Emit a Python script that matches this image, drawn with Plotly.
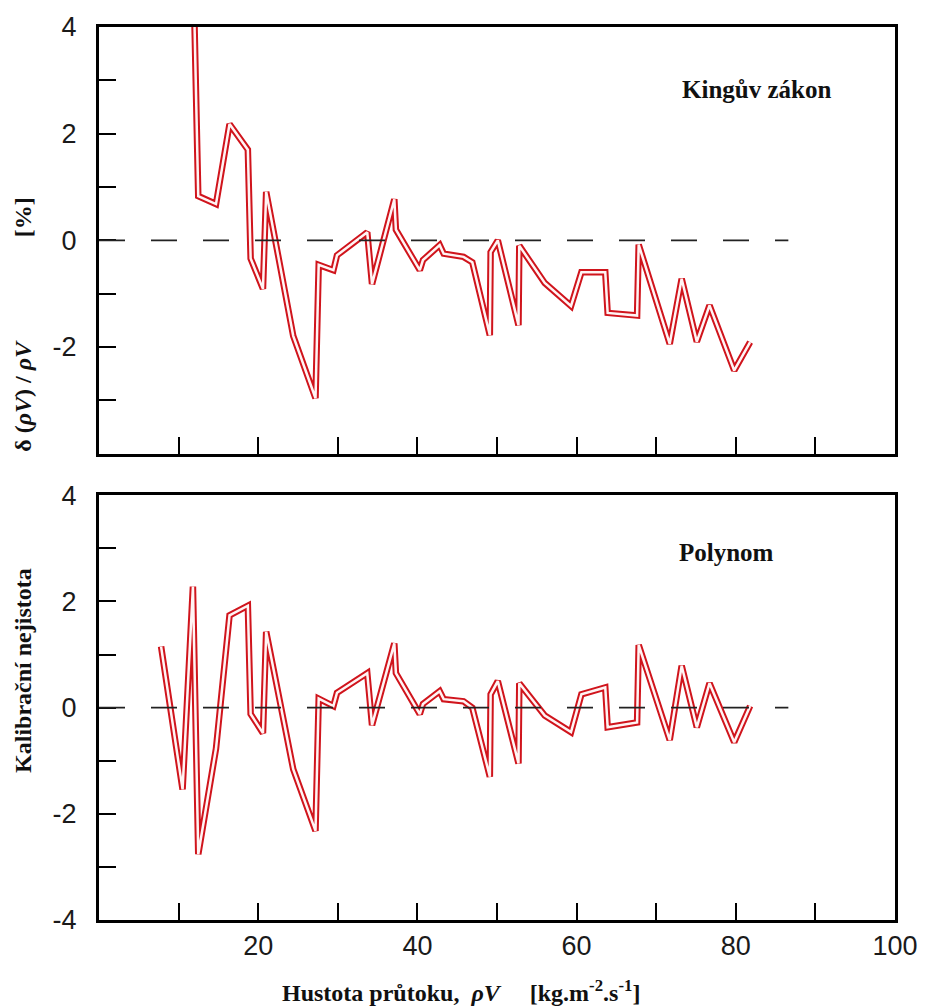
import plotly.graph_objects as go

# Mass flux density rho*V [kg m^-2 s^-1]
flux = [7.8, 10.5, 11.8, 12.47, 14.7, 16.4, 18.7, 19.05, 20.6, 21.0, 24.4, 27.2, 27.6,
        29.45, 29.9, 33.7, 34.3, 37.1, 37.3, 40.3, 40.7, 42.8, 43.3, 45.8, 46.9, 49.1,
        49.2, 50.1, 52.7, 52.8, 56.0, 59.3, 60.6, 63.6, 63.9, 67.6, 67.8, 71.7, 73.2,
        75.1, 76.7, 79.8, 81.8]

# Calibration uncertainty [%] - King's law (first points off the chart)
king = [12.0, 8.0, 5.4, 0.83, 0.68, 2.18, 1.70, -0.34, -0.91, 0.91, -1.79, -2.96, -0.46,
        -0.56, -0.28, 0.15, -0.82, 0.77, 0.20, -0.56, -0.37, -0.09, -0.25, -0.31, -0.41,
        -1.78, -0.22, 0.0, -1.59, -0.10, -0.80, -1.23, -0.60, -0.60, -1.36, -1.41, -0.08,
        -1.94, -0.72, -1.90, -1.22, -2.44, -1.91]

# Calibration uncertainty [%] - polynomial
poly = [1.15, -1.54, 2.28, -2.76, -0.77, 1.74, 1.92, -0.12, -0.48, 1.43, -1.16, -2.32, 0.17,
        0.03, 0.28, 0.65, -0.33, 1.21, 0.65, -0.12, 0.07, 0.31, 0.16, 0.12, 0.0, -1.30,
        0.25, 0.50, -1.05, 0.46, -0.15, -0.46, 0.25, 0.38, -0.37, -0.28, 1.18, -0.61,
        0.79, -0.37, 0.46, -0.65, 0.03]

x_tickvals = [10, 20, 30, 40, 50, 60, 70, 80, 90, 100]
x_ticktext_bottom = ["", "20", "", "40", "", "60", "", "80", "", "100"]
y_tickvals = [-4, -3, -2, -1, 0, 1, 2, 3, 4]
y_ticktext_top = ["", "", "-2", "", "0", "", "2", "", "4"]
y_ticktext_bottom = ["-4", "", "-2", "", "0", "", "2", "", "4"]

RED = "#d0141c"
INNER = "#fff4f4"

fig = go.Figure()
for yvals, xa, ya in [(king, "x", "y"), (poly, "x2", "y2")]:
    fig.add_trace(go.Scatter(x=flux, y=yvals, mode="lines", xaxis=xa, yaxis=ya,
                             line=dict(color=RED, width=6.5), showlegend=False,
                             hoverinfo="skip"))
    fig.add_trace(go.Scatter(x=flux, y=yvals, mode="lines", xaxis=xa, yaxis=ya,
                             line=dict(color=INNER, width=2.5), showlegend=False))

tickfont = dict(family="Liberation Sans, Arial, sans-serif", size=27, color="#1a1a1a")
common_x = dict(range=[0, 100], showline=True, linewidth=3, linecolor="black", mirror=True,
                ticks="inside", ticklen=17, tickwidth=2, tickcolor="black",
                tickmode="array", tickvals=x_tickvals, showgrid=False, zeroline=False,
                tickfont=tickfont)
common_y = dict(range=[-4, 4], showline=True, linewidth=3, linecolor="black", mirror=True,
                ticks="inside", ticklen=17, tickwidth=2, tickcolor="black",
                tickmode="array", tickvals=y_tickvals, showgrid=False, zeroline=False,
                tickfont=tickfont, ticklabelstandoff=14)

fig.update_layout(
    width=930, height=1008,
    margin=dict(l=99, r=25, t=20, b=88),
    paper_bgcolor="white", plot_bgcolor="white",
    xaxis=dict(**common_x, anchor="y", ticktext=[""] * len(x_tickvals)),
    yaxis=dict(**common_y, anchor="x", domain=[0.5222, 1.0], ticktext=y_ticktext_top),
    xaxis2=dict(**common_x, anchor="y2", ticktext=x_ticktext_bottom, ticklabelstandoff=0),
    yaxis2=dict(**common_y, anchor="x2", domain=[0.0, 0.4756], ticktext=y_ticktext_bottom),
)

for xr, yr in [("x", "y"), ("x2", "y2")]:
    fig.add_shape(type="line", xref=xr, yref=yr, x0=0, x1=86.6, y0=0, y1=0,
                  line=dict(color="#222", width=1.6, dash="26px,26px"))

serif = "Liberation Serif, Times New Roman, serif"
ann_font = dict(family=serif, size=25, color="#111")
lab_font = dict(family=serif, size=24, color="#111")
xt_font = dict(family=serif, size=24, color="#111")


def note(text, x, y, font, angle=0):
    fig.add_annotation(text=text, xref="paper", yref="paper", x=x, y=y,
                       xanchor="center", yanchor="middle", textangle=angle,
                       showarrow=False, font=font)


note("<b>Kingův zákon</b>", 0.826, 0.93, ann_font)
note("<b>Polynom</b>", 0.788, 0.412, ann_font)

note("<b>[%]</b>", -0.0955, 0.787, lab_font, -90)
note("<b>δ (<i>ρV</i>) / <i>ρV</i></b>", -0.0955, 0.587, lab_font, -90)
note("<b>Kalibrační nejistota</b>", -0.0955, 0.28, lab_font, -90)

note("<b>Hustota průtoku,  <i>ρV</i>     [kg.m<sup>-2</sup>.s<sup>-1</sup>]</b>",
     0.455, -0.08, xt_font)

fig.write_html("out.html")
